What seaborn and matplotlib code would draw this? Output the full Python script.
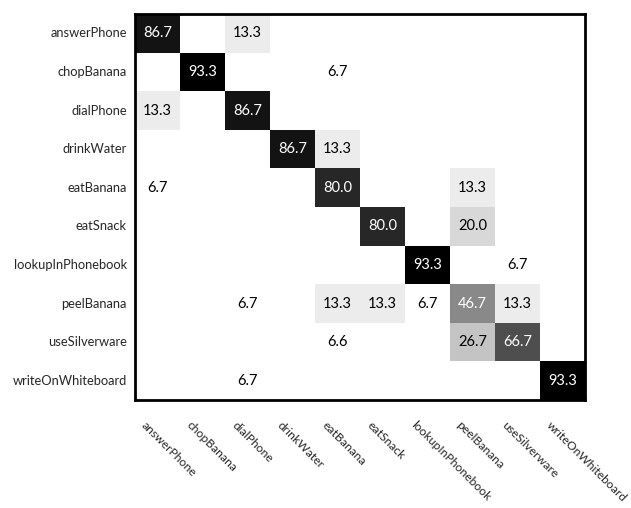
import matplotlib
matplotlib.use("Agg")
import matplotlib.pyplot as plt
import matplotlib.transforms as mtransforms
import numpy as np
import pandas as pd
import seaborn as sns

# Class names (rows = true, cols = predicted)
classes = [
    "answerPhone", "chopBanana", "dialPhone", "drinkWater", "eatBanana",
    "eatSnack", "lookupInPhonebook", "peelBanana", "useSilverware",
    "writeOnWhiteboard",
]

# Confusion matrix values in percent (0 = empty cell)
row_answerPhone = [86.7, 0, 13.3, 0, 0, 0, 0, 0, 0, 0]
row_chopBanana = [0, 93.3, 0, 0, 6.7, 0, 0, 0, 0, 0]
row_dialPhone = [13.3, 0, 86.7, 0, 0, 0, 0, 0, 0, 0]
row_drinkWater = [0, 0, 0, 86.7, 13.3, 0, 0, 0, 0, 0]
row_eatBanana = [6.7, 0, 0, 0, 80.0, 0, 0, 13.3, 0, 0]
row_eatSnack = [0, 0, 0, 0, 0, 80.0, 0, 20.0, 0, 0]
row_lookupInPhonebook = [0, 0, 0, 0, 0, 0, 93.3, 0, 6.7, 0]
row_peelBanana = [0, 0, 6.7, 0, 13.3, 13.3, 6.7, 46.7, 13.3, 0]
row_useSilverware = [0, 0, 0, 0, 6.6, 0, 0, 26.7, 66.7, 0]
row_writeOnWhiteboard = [0, 0, 6.7, 0, 0, 0, 0, 0, 0, 93.3]

cm = pd.DataFrame(
    [row_answerPhone, row_chopBanana, row_dialPhone, row_drinkWater,
     row_eatBanana, row_eatSnack, row_lookupInPhonebook, row_peelBanana,
     row_useSilverware, row_writeOnWhiteboard],
    index=classes, columns=classes,
)

sns.set_style("white")
plt.rcParams["font.family"] = ["Lato", "DejaVu Sans"]

fig = plt.figure(figsize=(6.31, 5.08), dpi=100)
ax = fig.add_axes([0.214, 0.2126, 0.713, 0.7598])

# Annotations only for non-zero cells
labels = cm.apply(lambda col: col.map(lambda v: f"{v:.1f}" if v > 0 else ""))

sns.heatmap(
    cm,
    ax=ax,
    cmap="gray_r",
    vmin=6.7,
    vmax=93.3,
    annot=labels,
    fmt="",
    cbar=False,
    annot_kws={"fontsize": 10.5},
)

# Text colour: white on dark cells
for txt in ax.texts:
    s = txt.get_text()
    if s and float(s) >= 40:
        txt.set_color("white")
    else:
        txt.set_color("black")

# Frame
for spine in ax.spines.values():
    spine.set_visible(True)
    spine.set_color("black")
    spine.set_linewidth(2)

ax.tick_params(axis="both", length=0)
ax.set_yticklabels(classes, rotation=0, fontsize=9.3)
ax.set_xticklabels(classes, rotation=-45, ha="left", va="center",
                   rotation_mode="anchor", fontsize=8.7)
ax.tick_params(axis="x", pad=17)
ax.tick_params(axis="y", pad=6)

# Shift the rotated labels a bit to the left, as in the original
offset = mtransforms.ScaledTranslation(-14 / 100, 0, fig.dpi_scale_trans)
for lbl in ax.get_xticklabels():
    lbl.set_transform(lbl.get_transform() + offset)

ax.set_xlabel("")
ax.set_ylabel("")

fig.savefig("out.png", dpi=100)
plt.close()
